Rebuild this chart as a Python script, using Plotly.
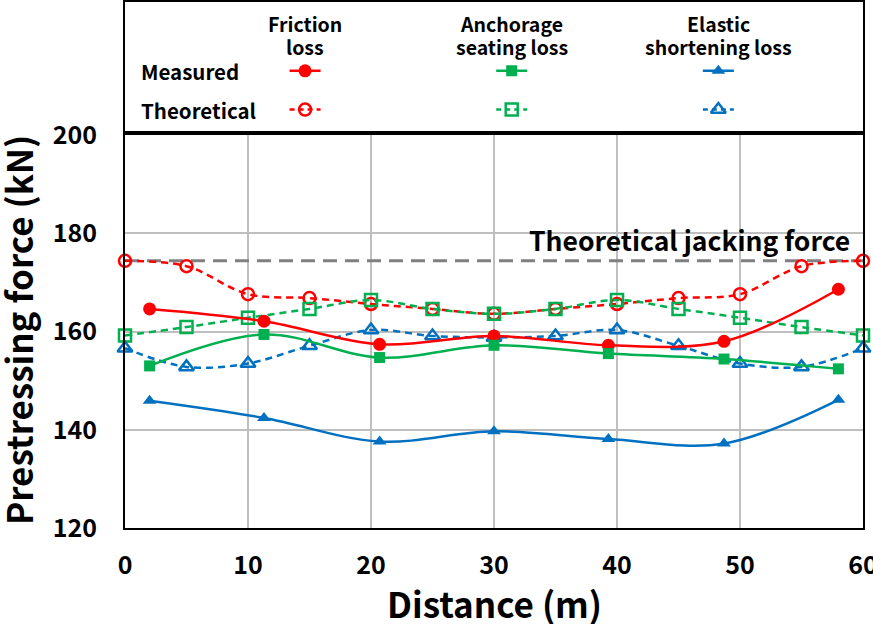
import plotly.graph_objects as go

# measured values (filled markers, solid smoothed lines)
x_meas = [2.0, 11.3, 20.7, 30.0, 39.3, 48.7, 58.0]
friction_meas = [164.6, 162.1, 157.4, 159.1, 157.2, 158.0, 168.6]
anchorage_meas = [153.0, 159.4, 154.7, 157.2, 155.5, 154.4, 152.4]
elastic_meas = [145.9, 142.4, 137.6, 139.7, 138.1, 137.2, 146.1]

# theoretical values (open markers, dashed smoothed lines)
x_theo = [0, 5, 10, 15, 20, 25, 30, 35, 40, 45, 50, 55, 60]
friction_theo = [174.4, 173.3, 167.6, 166.8, 165.6, 164.6, 163.6, 164.6, 165.6, 166.8, 167.6, 173.3, 174.4]
anchorage_theo = [159.2, 160.9, 162.8, 164.6, 166.4, 164.6, 163.6, 164.6, 166.4, 164.6, 162.8, 160.9, 159.2]
elastic_theo = [156.6, 152.8, 153.5, 157.1, 160.3, 159.1, 158.8, 159.1, 160.3, 157.1, 153.5, 152.8, 156.6]

jacking_force = 174.4
jacking_x = [0, 60]

RED, GREEN, BLUE = '#ff0000', '#00b050', '#0070c0'
FONT = 'Noto Sans CJK KR'

series = [
    ('Friction loss', RED, 'circle', friction_meas, friction_theo, 13, 12),
    ('Anchorage seating loss', GREEN, 'square', anchorage_meas, anchorage_theo, 11, 12),
    ('Elastic shortening loss', BLUE, 'triangle-up', elastic_meas, elastic_theo, 12, 13),
]

fig = go.Figure()

fig.add_trace(go.Scatter(
    x=jacking_x, y=[jacking_force] * len(jacking_x), mode='lines',
    line=dict(color='#808080', width=3, dash='14px,8px'),
    showlegend=False, hoverinfo='skip',
))

for name, col, sym, meas, theo, ms_f, ms_o in series:
    fig.add_trace(go.Scatter(
        x=x_theo, y=theo, mode='lines+markers', name=name + ' (theoretical)',
        line=dict(color=col, width=2.5, dash='7px,5px', shape='spline', smoothing=1),
        marker=dict(symbol=sym + '-open', size=ms_o, color=col, line=dict(width=2.5, color=col)),
        showlegend=False, cliponaxis=False,
    ))

for name, col, sym, meas, theo, ms_f, ms_o in series:
    fig.add_trace(go.Scatter(
        x=x_meas, y=meas, mode='lines+markers', name=name + ' (measured)',
        line=dict(color=col, width=2.5, shape='spline', smoothing=1),
        marker=dict(symbol=sym, size=ms_f, color=col),
        showlegend=False,
    ))

# legend box, drawn as a small second axes on top
col_x = [0.244, 0.524, 0.804]
row_y = {'meas': 0.466, 'theo': 0.165}
hw = 0.021
for (name, col, sym, meas, theo, ms_f, ms_o), cx in zip(series, col_x):
    fig.add_trace(go.Scatter(
        x=[cx - hw, cx, cx + hw], y=[row_y['meas']] * 3, mode='lines',
        line=dict(color=col, width=2.5), xaxis='x2', yaxis='y2',
        showlegend=False, hoverinfo='skip'))
    fig.add_trace(go.Scatter(
        x=[cx], y=[row_y['meas']], mode='markers',
        marker=dict(symbol=sym, size=ms_f, color=col), xaxis='x2', yaxis='y2',
        showlegend=False, hoverinfo='skip'))
    fig.add_trace(go.Scatter(
        x=[cx - hw, cx, cx + hw], y=[row_y['theo']] * 3, mode='lines',
        line=dict(color=col, width=2.5, dash='5px,4px'), xaxis='x2', yaxis='y2',
        showlegend=False, hoverinfo='skip'))
    fig.add_trace(go.Scatter(
        x=[cx], y=[row_y['theo']], mode='markers',
        marker=dict(symbol=sym + '-open', size=ms_o, color=col, line=dict(width=2.5, color=col)),
        xaxis='x2', yaxis='y2', showlegend=False, hoverinfo='skip'))

headers = [('Friction', 'loss'), ('Anchorage', 'seating loss'), ('Elastic', 'shortening loss')]
hfont = dict(size=19.5, color='black', family=FONT)
rfont = dict(size=20.5, color='black', family=FONT)
annos = []
for (h1, h2), cx in zip(headers, col_x):
    annos.append(dict(x=cx, y=0.835, xref='x2', yref='y2', text='<b>' + h1 + '</b>',
                      showarrow=False, xanchor='center', yanchor='middle', font=hfont))
    annos.append(dict(x=cx, y=0.655, xref='x2', yref='y2', text='<b>' + h2 + '</b>',
                      showarrow=False, xanchor='center', yanchor='middle', font=hfont))
annos.append(dict(x=0.019, y=row_y['meas'], xref='x2', yref='y2', text='<b>Measured</b>',
                  showarrow=False, xanchor='left', yanchor='middle', font=rfont))
annos.append(dict(x=0.019, y=row_y['theo'], xref='x2', yref='y2', text='<b>Theoretical</b>',
                  showarrow=False, xanchor='left', yanchor='middle', font=rfont))
annos.append(dict(x=59.1, y=178.8, xref='x', yref='y', text='<b>Theoretical jacking force</b>',
                  showarrow=False, xanchor='right', yanchor='middle',
                  font=dict(size=26.5, color='black', family=FONT)))
# axis titles placed by hand so they sit where the original has them
annos.append(dict(x=-0.1465, y=0.376, xref='paper', yref='paper',
                  text='<b>Prestressing force (kN)</b>', textangle=-90,
                  showarrow=False, xanchor='center', yanchor='middle',
                  font=dict(size=35, color='black', family=FONT)))
annos.append(dict(x=0.5, y=-0.141, xref='paper', yref='paper',
                  text='<b>Distance (m)</b>',
                  showarrow=False, xanchor='center', yanchor='middle',
                  font=dict(size=35, color='black', family=FONT)))

fig.update_layout(
    width=873, height=624,
    margin=dict(l=125, r=10, t=2, b=96),
    paper_bgcolor='white', plot_bgcolor='white',
    font=dict(family=FONT, color='black'),
    annotations=annos,
    xaxis=dict(
        range=[0, 60], dtick=10, showgrid=True, gridcolor='#bfbfbf', gridwidth=1.5,
        zeroline=False, showline=True, linecolor='black', linewidth=2, mirror=True,
        ticks='', ticklabelstandoff=14, automargin=False, ticklabeloverflow='allow',
        tickfont=dict(size=25, family=FONT, weight='bold'),
    ),
    yaxis=dict(
        range=[120, 200], dtick=20, showgrid=True, gridcolor='#bfbfbf', gridwidth=1.5,
        zeroline=False, showline=True, linecolor='black', linewidth=2, mirror=True,
        ticks='', ticklabelstandoff=21, domain=[0, 0.7471], automargin=False,
        ticklabeloverflow='allow',
        tickfont=dict(size=25, family=FONT, weight='bold'),
    ),
    xaxis2=dict(range=[0, 1], visible=True, showticklabels=False, showgrid=False, zeroline=False,
                showline=True, linecolor='black', linewidth=2, mirror=True, anchor='y2', ticks='',
                automargin=False),
    yaxis2=dict(range=[0, 1], showticklabels=False, showgrid=False, zeroline=False,
                showline=True, linecolor='black', linewidth=2, mirror=True, anchor='x2',
                domain=[0.755, 1.0], ticks='', automargin=False),
)

# drop the browser's default body margin so the figure sits at the window's corner
fig.write_html("out.html", config={'displayModeBar': False},
               post_script="document.body.style.margin='0';")
